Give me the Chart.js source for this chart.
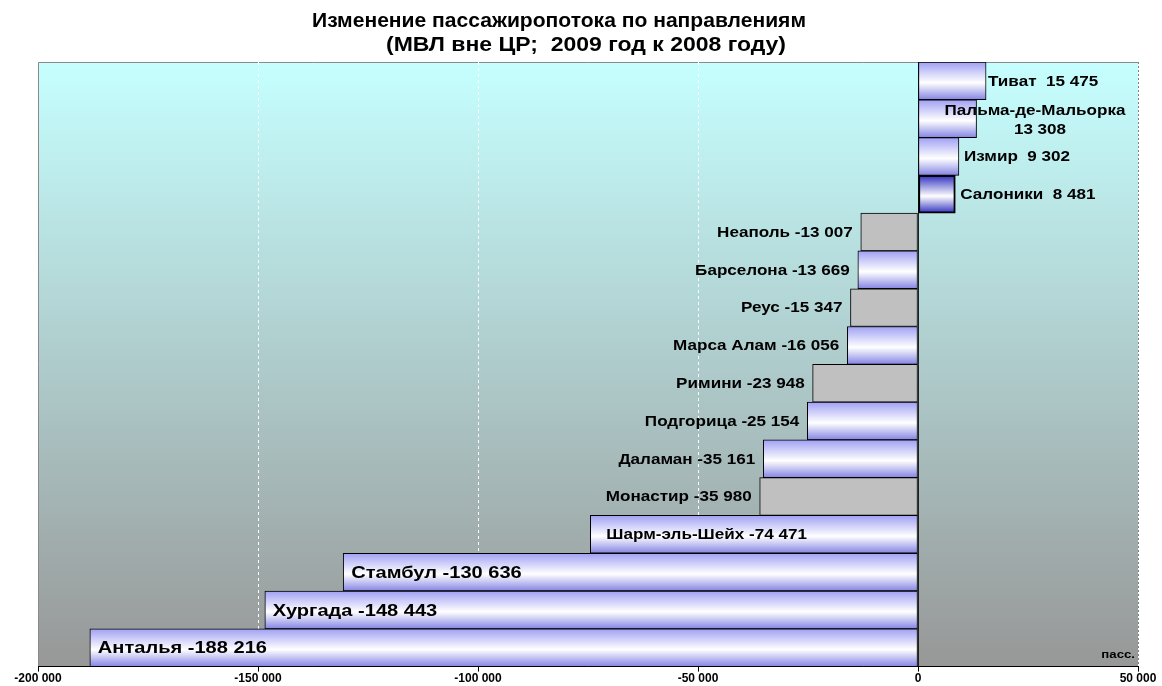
<!DOCTYPE html>
<html lang="ru">
<head>
  <meta charset="UTF-8" />
  <title>Изменение пассажиропотока по направлениям</title>
  <script src="https://cdn.jsdelivr.net/npm/chart.js"></script>
  <style>
    html, body { margin: 0; padding: 0; background: #fff; }
    #wrap { width: 1162px; height: 686px; position: relative; }
  </style>
</head>
<body>
  <div id="wrap"><canvas id="paxChart" width="1162" height="686"></canvas></div>

  <script>
    // data, top to bottom
    const directions = [
      'Тиват', 'Пальма-де-Мальорка', 'Измир', 'Салоники', 'Неаполь', 'Барселона',
      'Реус', 'Марса Алам', 'Римини', 'Подгорица', 'Даламан', 'Монастир',
      'Шарм-эль-Шейх', 'Стамбул', 'Хургада', 'Анталья'
    ];
    const paxChange = [
      15475, 13308, 9302, 8481, -13007, -13669,
      -15347, -16056, -23948, -25154, -35161, -35980,
      -74471, -130636, -148443, -188216
    ];
    const xTicks = [-200000, -150000, -100000, -50000, 0, 50000];
    const titleLines = ['Изменение пассажиропотока по направлениям', '(МВЛ вне ЦР;  2009 год к 2008 году)'];
    const unitLabel = 'пасс.';

    // styling lookups
    const grayBars = ['Неаполь', 'Реус', 'Римини', 'Монастир'];
    const darkBars = ['Салоники'];
    const FONT = '"Liberation Sans", Arial, sans-serif';

    const fmt = v => (v < 0 ? '-' : '') + String(Math.abs(v)).replace(/\B(?=(\d{3})+(?!\d))/g, ' ');

    // text drawn a bit wider than the font, like the original
    function wideText(ctx, text, x, y, align, sx) {
      const w = ctx.measureText(text).width * sx;
      const left = align === 'left' ? x : align === 'right' ? x - w : x - w / 2;
      ctx.save();
      ctx.translate(left, y);
      ctx.scale(sx, 1);
      ctx.textAlign = 'left';
      ctx.fillText(text, 0, 0);
      ctx.restore();
    }

    function barFill(ctx) {
      const name = directions[ctx.dataIndex];
      if (grayBars.includes(name)) return '#c0c0c0';
      const chart = ctx.chart;
      const area = chart.chartArea;
      if (!area || !chart.scales.y) return '#b0b0f8';
      const c = chart.scales.y.getPixelForValue(ctx.dataIndex);
      const h = area.height / directions.length;
      const g = chart.ctx.createLinearGradient(0, c - h / 2, 0, c + h / 2);
      if (darkBars.includes(name)) {
        g.addColorStop(0, '#3030c0');
        g.addColorStop(0.55, '#ffffff');
        g.addColorStop(1, '#3030c0');
      } else {
        g.addColorStop(0, '#a0a0f4');
        g.addColorStop(0.55, '#ffffff');
        g.addColorStop(1, '#8484e4');
      }
      return g;
    }

    const plotBackground = {
      id: 'plotBackground',
      beforeDraw(chart) {
        const { ctx, chartArea: a, scales: { x } } = chart;
        ctx.save();
        const g = ctx.createLinearGradient(0, a.top, 0, a.bottom);
        g.addColorStop(0, '#c6ffff');
        g.addColorStop(1, '#979797');
        ctx.fillStyle = g;
        ctx.fillRect(a.left, a.top, a.width, a.height);
        ctx.strokeStyle = '#8a8a8a';
        ctx.lineWidth = 1;
        ctx.beginPath();
        ctx.moveTo(a.left + 0.5, a.bottom);
        ctx.lineTo(a.left + 0.5, a.top + 0.5);
        ctx.lineTo(a.right, a.top + 0.5);
        ctx.stroke();
        // grid lines
        xTicks.forEach(t => {
          const px = Math.round(x.getPixelForValue(t)) + 0.5;
          if (t === 0 || t === xTicks[0]) return;
          ctx.beginPath();
          if (t === xTicks[xTicks.length - 1]) {
            ctx.strokeStyle = '#808080';
            ctx.setLineDash([2, 2]);
          } else {
            ctx.strokeStyle = '#ffffff';
            ctx.setLineDash([3, 3]);
          }
          ctx.moveTo(px, a.top);
          ctx.lineTo(px, a.bottom);
          ctx.stroke();
        });
        ctx.setLineDash([]);
        const z = Math.round(x.getPixelForValue(0)) + 0.5;
        ctx.strokeStyle = '#202020';
        ctx.beginPath();
        ctx.moveTo(z, a.top);
        ctx.lineTo(z, a.bottom);
        ctx.stroke();
        ctx.restore();
      }
    };

    const barLabels = {
      id: 'barLabels',
      afterDatasetsDraw(chart) {
        const { ctx, chartArea: a } = chart;
        const meta = chart.getDatasetMeta(0);
        ctx.save();
        ctx.fillStyle = '#000';
        ctx.textBaseline = 'middle';
        meta.data.forEach((bar, i) => {
          const v = paxChange[i];
          const name = directions[i];
          const big = Math.abs(v) > 100000;
          ctx.font = 'bold ' + (big ? 17 : 14) + 'px ' + FONT;
          const sx = big ? 1.18 : 1.22;
          if (v >= 0) {
            if (name.length > 14) {
              wideText(ctx, name, 1035, bar.y - 8, 'center', sx);
              wideText(ctx, fmt(v), 1040, bar.y + 11, 'center', sx);
            } else {
              wideText(ctx, name + '  ' + fmt(v), bar.x + (i === 0 ? 2 : 5), bar.y + 1, 'left', sx);
            }
          } else if (Math.abs(v) < 50000) {
            wideText(ctx, name + ' ' + fmt(v), bar.x - 8, bar.y + 1, 'right', sx);
          } else {
            wideText(ctx, name + ' ' + fmt(v), bar.x + (big ? 8 : 16), bar.y + 1, 'left', sx);
          }
        });
        // title, fitted to the original widths
        ctx.font = 'bold 21px ' + FONT;
        const tw = [494, 400], tc = [559, 586], ty = [21, 45];
        titleLines.forEach((t, k) => {
          const s = tw[k] / ctx.measureText(t).width;
          wideText(ctx, t, tc[k], ty[k], 'center', s);
        });
        // unit
        ctx.font = 'bold 11px ' + FONT;
        wideText(ctx, unitLabel, a.right - 3, a.bottom - 12, 'right', 1.2);
        ctx.restore();
      }
    };

    new Chart('paxChart', {
      type: 'bar',
      data: {
        labels: directions,
        datasets: [{
          data: paxChange,
          backgroundColor: barFill,
          borderColor: '#000000',
          borderWidth: ctx => darkBars.includes(directions[ctx.dataIndex]) ? 2 : 1,
          borderSkipped: false,
          categoryPercentage: 1,
          barPercentage: 1
        }]
      },
      options: {
        indexAxis: 'y',
        responsive: false,
        animation: false,
        layout: { padding: { left: 38, right: 24, top: 62, bottom: 0 } },
        plugins: { legend: { display: false }, tooltip: { enabled: false }, title: { display: false } },
        scales: {
          y: { display: false },
          x: {
            min: -200000,
            max: 50000,
            afterBuildTicks: scale => { scale.ticks = xTicks.map(v => ({ value: v })); },
            grid: { drawOnChartArea: false, drawTicks: true, tickLength: 5, color: '#000' },
            border: { display: true, color: '#000', width: 1 },
            ticks: {
              color: '#000',
              padding: 0,
              maxRotation: 0,
              font: { family: FONT, size: 12, weight: 'bold' },
              callback: v => fmt(v)
            }
          }
        }
      },
      plugins: [plotBackground, barLabels]
    });
  </script>
</body>
</html>
